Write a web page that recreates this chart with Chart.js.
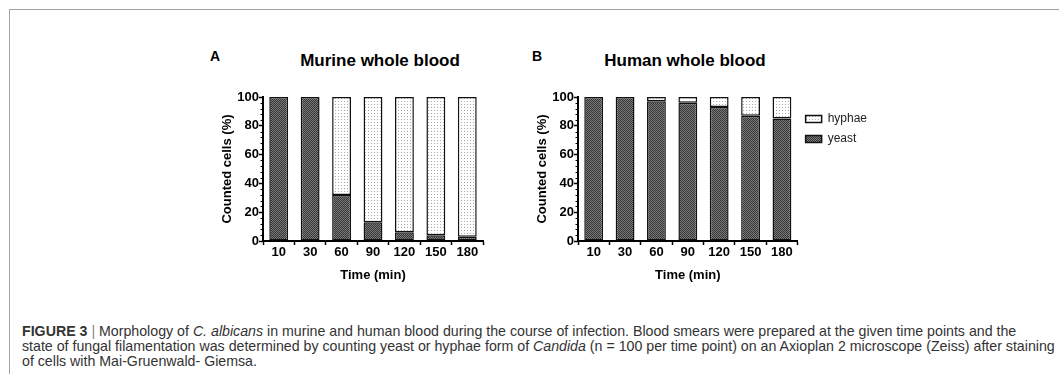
<!DOCTYPE html>
<html>
<head>
<meta charset="utf-8">
<script src="https://cdn.jsdelivr.net/npm/chart.js@4.4.1/dist/chart.umd.min.js"></script>
<style>
  body {
    margin: 0;
    width: 1059px;
    height: 374px;
    position: relative;
    overflow: hidden;
    background: #fff;
    font-family: "Liberation Sans", Arial, sans-serif;
  }
  #frame {
    position: absolute;
    left: 9px;
    top: 9px;
    right: 0;
    bottom: 0;
    border-top: 1px solid #a3a3a3;
    border-left: 1px solid #a3a3a3;
  }
  .panel-letter {
    position: absolute;
    top: 48px;
    font-size: 14px;
    font-weight: bold;
    color: #000;
  }
  .chart-title {
    position: absolute;
    top: 51px;
    width: 240px;
    text-align: center;
    font-size: 17px;
    line-height: 20px;
    font-weight: bold;
    color: #000;
  }
  canvas {
    position: absolute;
    top: 40px;
  }
  #chart-a { left: 190px; }
  #chart-b { left: 505px; }
  #caption {
    position: absolute;
    left: 22px;
    top: 324px;
    margin: 0;
    font-size: 14.2px;
    line-height: 15px;
    color: #333;
    white-space: nowrap;
  }
  #caption .sep { color: #888; }
</style>
</head>
<body>
<div id="frame"></div>
<div class="panel-letter" style="left:210px">A</div>
<div class="chart-title" style="left:260px">Murine whole blood</div>
<div class="panel-letter" style="left:532px">B</div>
<div class="chart-title" style="left:565px">Human whole blood</div>
<canvas id="chart-a" width="300" height="250"></canvas>
<canvas id="chart-b" width="380" height="250"></canvas>
<p id="caption"><b>FIGURE 3</b> <span class="sep">|</span> Morphology of <i>C. albicans</i> in murine and human blood during the course of infection. Blood smears were prepared at the given time points and the<br>state of fungal filamentation was determined by counting yeast or hyphae form of <i>Candida</i> (n = 100 per time point) on an Axioplan 2 microscope (Zeiss) after staining<br>of cells with Mai-Gruenwald- Giemsa.</p>

<script>
const timePoints = ["10", "30", "60", "90", "120", "150", "180"];
const murineYeast = [100, 100, 32, 13, 6, 4, 3];
const murineHyphae = [0, 0, 68, 87, 94, 96, 97];
const humanYeast = [100, 100, 97, 96, 93, 87, 85];
const humanHyphae = [0, 0, 3, 4, 7, 13, 15];

Chart.defaults.font.family = "'Liberation Sans', Arial, sans-serif";
Chart.defaults.color = "#000";

// small repeating fills, like the GraphPad hatch patterns
function makePattern(bg, dot, size, dots) {
  const c = document.createElement("canvas");
  c.width = size;
  c.height = size;
  const g = c.getContext("2d");
  g.fillStyle = bg;
  g.fillRect(0, 0, size, size);
  g.fillStyle = dot;
  dots.forEach(([x, y]) => g.fillRect(x, y, 1, 1));
  return g.createPattern(c, "repeat");
}

const yeastFill = makePattern("#353535", "#7a7a7a", 2, [[0, 0], [1, 1]]);
const hyphaeFill = makePattern("#fff", "#a8a8a8", 3, [[1, 1]]);

// short minor ticks on the y axis
const minorTicks = {
  id: "minorTicks",
  afterDraw(chart) {
    const y = chart.scales.y;
    const ctx = chart.ctx;
    ctx.save();
    ctx.strokeStyle = "#000";
    ctx.lineWidth = 1;
    for (let v = 0; v <= 100; v += 4) {
      if (v % 20 === 0) continue;
      const py = Math.round(y.getPixelForValue(v)) + 0.5;
      ctx.beginPath();
      ctx.moveTo(y.right - 2.5, py);
      ctx.lineTo(y.right, py);
      ctx.stroke();
    }
    ctx.restore();
  },
};

function makeChart(id, yeast, hyphae, padRight, showLegend) {
  const bar = {
    borderColor: "#111",
    borderWidth: 1.5,
    borderSkipped: false,
    barPercentage: 0.6,
    categoryPercentage: 1,
  };
  return new Chart(document.querySelector(id), {
    type: "bar",
    data: {
      labels: timePoints,
      datasets: [
        { ...bar, label: "yeast", data: yeast, backgroundColor: yeastFill },
        { ...bar, label: "hyphae", data: hyphae, backgroundColor: hyphaeFill },
      ],
    },
    options: {
      responsive: false,
      animation: false,
      layout: { padding: { left: 0, right: padRight, top: 57, bottom: 0 } },
      plugins: {
        legend: {
          display: showLegend,
          position: "right",
          align: "start",
          fullSize: false,
          reverse: true,
          maxWidth: 80,
          title: {
            display: true,
            text: "",
            font: { size: 6, lineHeight: 1 },
            padding: { top: 1, bottom: 1 },
          },
          labels: {
            boxWidth: 16,
            boxHeight: 7,
            padding: 8,
            color: "#222",
            font: { size: 12 },
          },
        },
        tooltip: { enabled: false },
      },
      scales: {
        x: {
          stacked: true,
          grid: {
            drawOnChartArea: false,
            tickLength: 4,
            tickColor: "#000",
            tickWidth: 1.5,
          },
          border: { color: "#000", width: 2 },
          ticks: {
            padding: 0,
            maxRotation: 0,
            font: { size: 13, weight: "bold" },
          },
          title: {
            display: true,
            text: "Time (min)",
            font: { size: 13, weight: "bold" },
            padding: { top: 0, bottom: 7 },
          },
          afterFit(scale) {
            scale.height = 49;
          },
        },
        y: {
          stacked: true,
          min: 0,
          max: 100,
          grid: {
            drawOnChartArea: false,
            tickLength: 4,
            tickColor: "#000",
            tickWidth: 1.5,
          },
          border: { color: "#000", width: 2 },
          ticks: {
            stepSize: 20,
            padding: 0,
            font: { size: 13, weight: "bold" },
          },
          title: {
            display: true,
            text: "Counted cells (%)",
            font: { size: 13, weight: "bold" },
            padding: { top: 30, bottom: 0 },
          },
          afterFit(scale) {
            scale.width = 73;
          },
        },
      },
    },
    plugins: [minorTicks],
  });
}

makeChart("#chart-a", murineYeast, murineHyphae, 7, false);
makeChart("#chart-b", humanYeast, humanHyphae, 8, true);
</script>
</body>
</html>
